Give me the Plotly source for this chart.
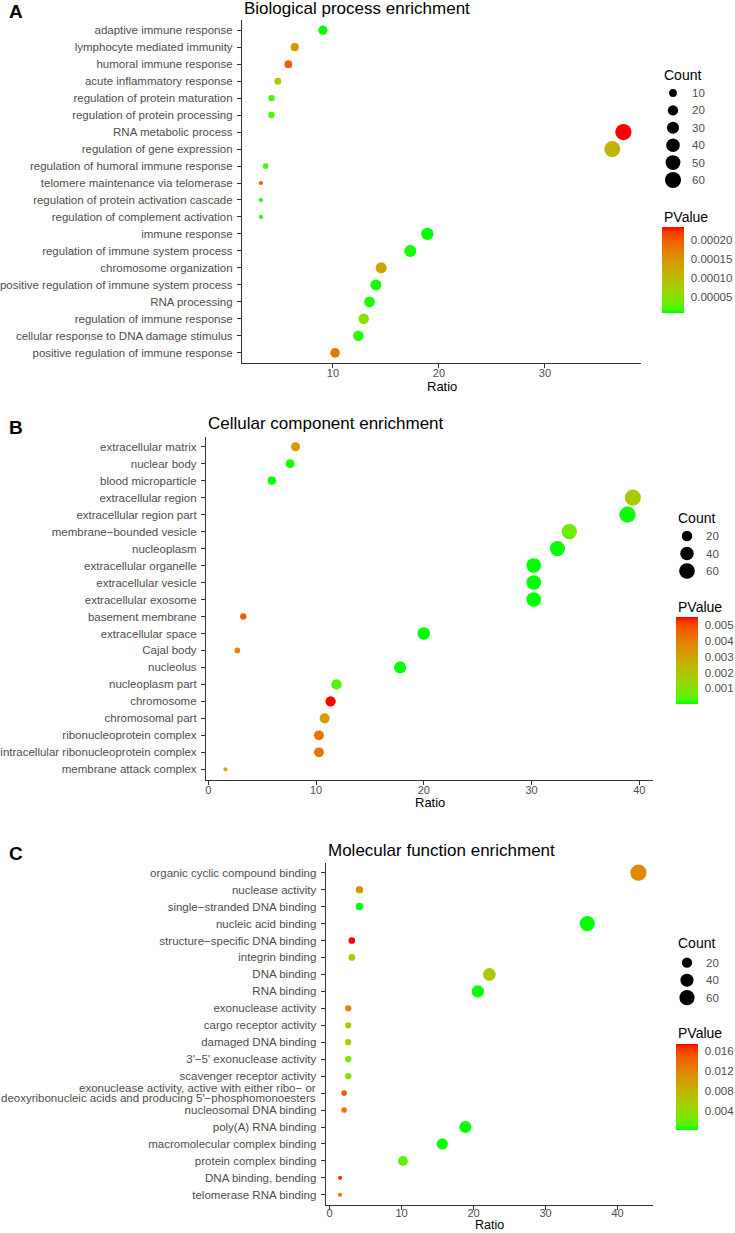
import numpy as np
import plotly.graph_objects as go

W, H = 735, 1233
FONT = "Liberation Sans, Arial, Helvetica, sans-serif"
GRAY30 = "#4D4D4D"

# ---------------- data ----------------
bp_terms = [
    "adaptive immune response", "lymphocyte mediated immunity", "humoral immune response",
    "acute inflammatory response", "regulation of protein maturation",
    "regulation of protein processing", "RNA metabolic process", "regulation of gene expression",
    "regulation of humoral immune response", "telomere maintenance via telomerase",
    "regulation of protein activation cascade", "regulation of complement activation",
    "immune response", "regulation of immune system process", "chromosome organization",
    "positive regulation of immune system process", "RNA processing",
    "regulation of immune response", "cellular response to DNA damage stimulus",
    "positive regulation of immune response",
]
bp_ratio = [9.05, 6.4, 5.8, 4.8, 4.2, 4.2, 37.4, 36.35, 3.65, 3.2, 3.2, 3.2,
            18.9, 17.3, 14.55, 14.05, 13.45, 12.9, 12.4, 10.2]
bp_count = [15, 11, 10, 8, 7, 7, 62, 60, 6, 5, 5, 5, 31, 29, 24, 23, 22, 21, 21, 17]
bp_pvalue = [0.0000087, 0.000145, 0.0002, 0.000088, 0.00002, 0.00002, 0.000235, 0.00011,
             0.00002, 0.0002, 0.000015, 0.000015, 0.000009, 0.000012, 0.00013, 0.000012,
             0.000014, 0.000054, 0.000015, 0.00018]
bp_count_breaks = [10, 20, 30, 40, 50, 60]
bp_p_ticks = [0.00005, 0.0001, 0.00015, 0.0002]
bp_p_ticktext = ["0.00005", "0.00010", "0.00015", "0.00020"]
bp_x_ticks = [10, 20, 30]

cc_terms = [
    "extracellular matrix", "nuclear body", "blood microparticle", "extracellular region",
    "extracellular region part", "membrane\u2212bounded vesicle", "nucleoplasm",
    "extracellular organelle", "extracellular vesicle", "extracellular exosome",
    "basement membrane", "extracellular space", "Cajal body", "nucleolus", "nucleoplasm part",
    "chromosome", "chromosomal part", "ribonucleoprotein complex",
    "intracellular ribonucleoprotein complex", "membrane attack complex",
]
cc_ratio = [8.1, 7.6, 5.9, 39.4, 38.9, 33.5, 32.4, 30.2, 30.2, 30.2, 3.25, 20.0, 2.7, 17.8,
            11.9, 11.35, 10.8, 10.27, 10.27, 1.6]
cc_count = [13, 13, 10, 65, 65, 56, 54, 50, 50, 50, 5, 33, 4, 30, 20, 19, 18, 17, 17, 3]
cc_pvalue = [0.0033, 0.0001, 0.00005, 0.0018, 0.00005, 0.0007, 0.00005, 0.00002, 0.00002,
             0.00002, 0.0047, 0.00003, 0.0037, 0.00005, 0.0004, 0.0055, 0.0032, 0.0042,
             0.0042, 0.0028]
cc_count_breaks = [20, 40, 60]
cc_p_ticks = [0.001, 0.002, 0.003, 0.004, 0.005]
cc_p_ticktext = ["0.001", "0.002", "0.003", "0.004", "0.005"]
cc_x_ticks = [0, 10, 20, 30, 40]

mf_terms = [
    "organic cyclic compound binding", "nuclease activity", "single\u2212stranded DNA binding",
    "nucleic acid binding", "structure\u2212specific DNA binding", "integrin binding",
    "DNA binding", "RNA binding", "exonuclease activity", "cargo receptor activity",
    "damaged DNA binding", "3'\u22125' exonuclease activity", "scavenger receptor activity",
    "exonuclease activity, active with either ribo\u2212 or<br>deoxyribonucleic acids and producing 5'\u2212phosphomonoesters",
    "nucleosomal DNA binding", "poly(A) RNA binding", "macromolecular complex binding",
    "protein complex binding", "DNA binding, bending", "telomerase RNA binding",
]
mf_ratio = [42.9, 4.16, 4.16, 35.8, 3.1, 3.1, 22.2, 20.6, 2.6, 2.6, 2.6, 2.6, 2.6, 2.03, 2.03,
            18.86, 15.66, 10.2, 1.47, 1.47]
mf_count = [71, 7, 7, 59, 5, 5, 37, 34, 4, 4, 4, 4, 4, 3, 3, 31, 26, 17, 2, 2]
mf_pvalue = [0.0118, 0.0104, 0.00014, 0.0002, 0.0173, 0.0062, 0.006, 0.0002, 0.0121, 0.0067,
             0.0053, 0.003, 0.003, 0.0147, 0.013, 0.0002, 0.0003, 0.0017, 0.0164, 0.0125]
mf_count_breaks = [20, 40, 60]
mf_p_ticks = [0.004, 0.008, 0.012, 0.016]
mf_p_ticktext = ["0.004", "0.008", "0.012", "0.016"]
mf_x_ticks = [0, 10, 20, 30, 40]

# ---------------- helpers ----------------
def _lin(c):
    c = c / 255.0
    return c / 12.92 if c <= 0.04045 else ((c + 0.055) / 1.055) ** 2.4

def _gam(c):
    c = max(0.0, min(1.0, c))
    v = 12.92 * c if c <= 0.0031308 else 1.055 * c ** (1 / 2.4) - 0.055
    return int(round(max(0, min(1, v)) * 255))

WHITE = (0.95047, 1.0, 1.08883)

def rgb2lab(rgb):
    r, g, b = [_lin(v) for v in rgb]
    X = 0.4124 * r + 0.3576 * g + 0.1805 * b
    Y = 0.2126 * r + 0.7152 * g + 0.0722 * b
    Z = 0.0193 * r + 0.1192 * g + 0.9505 * b
    f = lambda t: t ** (1 / 3) if t > 0.008856 else 7.787 * t + 16 / 116
    fx, fy, fz = f(X / WHITE[0]), f(Y / WHITE[1]), f(Z / WHITE[2])
    return (116 * fy - 16, 500 * (fx - fy), 200 * (fy - fz))

def lab2rgb(lab):
    L, a, b = lab
    fy = (L + 16) / 116
    fx = fy + a / 500
    fz = fy - b / 200
    finv = lambda t: t ** 3 if t ** 3 > 0.008856 else (t - 16 / 116) / 7.787
    X, Y, Z = finv(fx) * WHITE[0], finv(fy) * WHITE[1], finv(fz) * WHITE[2]
    r = 3.2406 * X - 1.5372 * Y - 0.4986 * Z
    g = -0.9689 * X + 1.8758 * Y + 0.0415 * Z
    bb = 0.0557 * X - 0.2040 * Y + 1.0570 * Z
    return (_gam(r), _gam(g), _gam(bb))

def lab_scale(low, high, n=21):
    l1, l2 = rgb2lab(low), rgb2lab(high)
    out = []
    for t in np.linspace(0, 1, n):
        lab = tuple(l1[i] + (l2[i] - l1[i]) * t for i in range(3))
        r, g, b = lab2rgb(lab)
        out.append([float(t), f"rgb({r},{g},{b})"])
    return out

CSCALE = lab_scale((0, 255, 0), (255, 0, 0))

def size_px(vals, cmin, cmax):
    v = np.asarray(vals, dtype=float)
    return 4.2 + 12.0 * np.sqrt(np.clip((v - cmin) / (cmax - cmin), 0, 1))

px = lambda x: x / W
py = lambda y: 1 - y / H

# ---------------- layout specs (pixels) ----------------
panels = [
    dict(letter="A", title="Biological process enrichment", terms=bp_terms, ratio=bp_ratio,
         count=bp_count, p=bp_pvalue, breaks=bp_count_breaks, pt=bp_p_ticks, ptt=bp_p_ticktext,
         xt=bp_x_ticks, x0=242, x1=641, xr=[1.42, 39.06], yt=20, yb=363, title_y=8.5,
         letter_y=12, ratio_y=386, ratio_anchor="middle", ratio_size=13, xstand=-4,
         count_x=662, count_y=75, dot_x=673, dot_y0=93, dot_y1=180, pv_y=217, bar_x=662,
         bar_y0=227, bar_y1=313),
    dict(letter="B", title="Cellular component enrichment", terms=cc_terms, ratio=cc_ratio,
         count=cc_count, p=cc_pvalue, breaks=cc_count_breaks, pt=cc_p_ticks, ptt=cc_p_ticktext,
         xt=cc_x_ticks, x0=206, x1=653, xr=[-0.21, 41.27], yt=436.5, yb=779.5, title_y=424,
         letter_y=427, ratio_y=802, ratio_anchor="middle", ratio_size=13, xstand=-4,
         count_x=676, count_y=518, dot_x=687, dot_y0=536, dot_y1=571, pv_y=607, bar_x=676,
         bar_y0=617, bar_y1=704),
    dict(letter="C", title="Molecular function enrichment", terms=mf_terms, ratio=mf_ratio,
         count=mf_count, p=mf_pvalue, breaks=mf_count_breaks, pt=mf_p_ticks, ptt=mf_p_ticktext,
         xt=mf_x_ticks, x0=325.7, x1=653.3, xr=[-0.53, 44.97], yt=862.5, yb=1205,
         title_y=850, letter_y=853, ratio_y=1234, ratio_anchor="bottom", ratio_size=12.5,
         xstand=-6, count_x=676, count_y=943, dot_x=687, dot_y0=962.7, dot_y1=997.7,
         pv_y=1033, bar_x=676, bar_y0=1044, bar_y1=1130),
]

fig = go.Figure()
layout = dict(
    width=W, height=H, margin=dict(l=0, r=0, t=0, b=0), template="none",
    paper_bgcolor="white", plot_bgcolor="white", showlegend=False,
    font=dict(family=FONT, color=GRAY30), annotations=[],
)
ann = layout["annotations"]

for i, P in enumerate(panels):
    k = i + 1
    kl = i + 4
    n = len(P["terms"])
    cmin_c, cmax_c = min(P["count"]), max(P["count"])
    xa = "x" if k == 1 else f"x{k}"
    ya = "y" if k == 1 else f"y{k}"
    fig.add_trace(go.Scatter(
        x=P["ratio"], y=P["terms"], mode="markers", xaxis=xa, yaxis=ya,
        marker=dict(
            size=size_px(P["count"], cmin_c, cmax_c), color=P["p"], colorscale=CSCALE,
            cmin=min(P["p"]), cmax=max(P["p"]), opacity=1, line=dict(width=0),
            colorbar=dict(
                x=px(P["bar_x"]), xanchor="left", xpad=0,
                y=py((P["bar_y0"] + P["bar_y1"]) / 2), yanchor="middle", ypad=0,
                thickness=22, lenmode="pixels", len=P["bar_y1"] - P["bar_y0"],
                outlinewidth=0, ticks="outside", ticklen=5, tickcolor="rgba(255,255,255,0)",
                tickwidth=1, tickvals=P["pt"], ticktext=P["ptt"],
                tickfont=dict(family=FONT, size=11.5, color=GRAY30),
            ),
        ),
        hoverinfo="x+y",
    ))
    axis_common = dict(showgrid=False, zeroline=False, showline=True, linecolor="#333333",
                       linewidth=1.2, ticks="outside", ticklen=4, tickcolor="#333333",
                       tickwidth=1, automargin=False)
    # y tick labels: multi-line labels drawn as separate text lines (tight spacing)
    ticktext = ["" if "<br>" in t else t for t in P["terms"]]
    layout[f"xaxis{k}" if k > 1 else "xaxis"] = dict(
        axis_common, domain=[px(P["x0"]), px(P["x1"])], range=P["xr"], anchor=ya,
        tickvals=P["xt"], tickfont=dict(family=FONT, size=11, color=GRAY30),
        ticklabelstandoff=P["xstand"],
    )
    layout[f"yaxis{k}" if k > 1 else "yaxis"] = dict(
        axis_common, domain=[py(P["yb"]), py(P["yt"])], anchor=xa, type="category",
        categoryorder="array", categoryarray=list(reversed(P["terms"])),
        range=[-0.6, n - 0.4], tickfont=dict(family=FONT, size=11.5, color=GRAY30),
        tickvals=P["terms"], ticktext=ticktext, ticklabelstandoff=2,
    )
    for t in P["terms"]:
        if "<br>" in t:
            lines = t.split("<br>")
            m = len(lines)
            for j, line in enumerate(lines):
                ann.append(dict(text=line, x=px(P["x0"] - 8), y=t, xref="paper", yref=ya,
                                xanchor="right", yanchor="middle", showarrow=False,
                                yshift=(m - 1) / 2 * 9.5 - j * 9.5,
                                font=dict(family=FONT, size=11.5, color=GRAY30)))
    # size legend (Count)
    nb = len(P["breaks"])
    step = (P["dot_y1"] - P["dot_y0"]) / (nb - 1)
    fig.add_trace(go.Scatter(
        x=[0] * nb, y=[str(b) for b in P["breaks"]], mode="markers",
        xaxis=f"x{kl}", yaxis=f"y{kl}",
        marker=dict(size=size_px(P["breaks"], cmin_c, cmax_c), color="#000000",
                    opacity=1, line=dict(width=0)),
        hoverinfo="skip",
    ))
    layout[f"xaxis{kl}"] = dict(domain=[px(P["dot_x"] - 9), px(P["dot_x"] + 9)], range=[-1, 1],
                                visible=False, anchor=f"y{kl}", fixedrange=True)
    layout[f"yaxis{kl}"] = dict(
        domain=[py(P["dot_y1"] + step / 2), py(P["dot_y0"] - step / 2)], anchor=f"x{kl}",
        side="right", type="category", categoryorder="array",
        categoryarray=[str(b) for b in reversed(P["breaks"])], range=[-0.5, nb - 0.5],
        showgrid=False, zeroline=False, showline=False, ticks="", automargin=False,
        tickfont=dict(family=FONT, size=11.5, color=GRAY30), ticklabelstandoff=9,
        fixedrange=True,
    )
    ann.append(dict(text=P["title"], x=px(P["x0"]), y=py(P["title_y"]), xref="paper",
                    yref="paper", xanchor="left", yanchor="middle", showarrow=False,
                    font=dict(family=FONT, size=17, color="black")))
    ann.append(dict(text=f"<b>{P['letter']}</b>", x=px(7), y=py(P["letter_y"]), xref="paper",
                    yref="paper", xanchor="left", yanchor="middle", showarrow=False,
                    font=dict(family=FONT, size=19, color="black")))
    ann.append(dict(text="Ratio", x=px((P["x0"] + P["x1"]) / 2), y=py(P["ratio_y"]),
                    xref="paper", yref="paper", xanchor="center", yanchor=P["ratio_anchor"],
                    showarrow=False, font=dict(family=FONT, size=P["ratio_size"], color="black")))
    ann.append(dict(text="Count", x=px(P["count_x"]), y=py(P["count_y"]), xref="paper",
                    yref="paper", xanchor="left", yanchor="middle", showarrow=False,
                    font=dict(family=FONT, size=14, color="black")))
    ann.append(dict(text="PValue", x=px(P["bar_x"]), y=py(P["pv_y"]), xref="paper",
                    yref="paper", xanchor="left", yanchor="middle", showarrow=False,
                    font=dict(family=FONT, size=14, color="black")))

fig.update_layout(**layout)
fig.write_html("out.html")
